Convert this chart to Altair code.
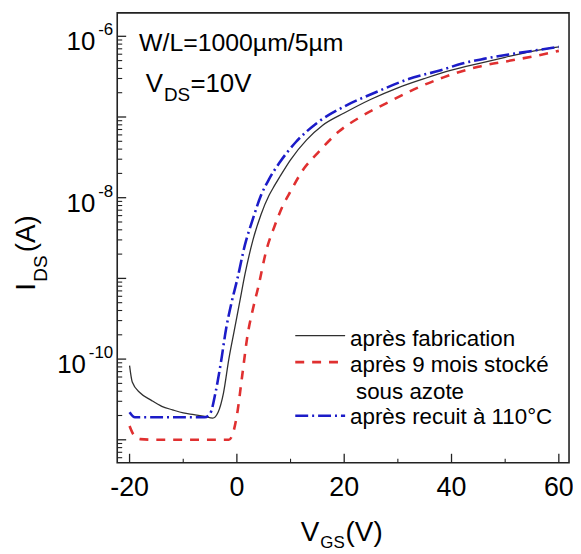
import altair as alt
import pandas as pd

# ---------------- data ----------------
vgs_fab = [-20, -19.5, -18, -16, -14, -12, -10, -8, -6, -4.5, -3.5, -2.5, -1.5, -0.5, 0.5,
           1.5, 3, 4.5, 6, 7, 8, 10, 13, 16, 20, 25, 30, 35, 40, 45, 50, 55, 60]
ids_fab = [8.3e-11, 5.2e-11, 3.8e-11, 3.1e-11, 2.6e-11, 2.35e-11, 2.15e-11, 2.05e-11, 1.95e-11,
           1.86e-11, 2.2e-11, 3.8e-11, 1.0e-10, 2.24e-10, 5.0e-10, 1.12e-9, 3.0e-9, 6.2e-9,
           1.07e-8, 1.41e-8, 1.82e-8, 2.95e-8, 5.2e-8, 7.9e-8, 1.12e-7, 1.66e-7, 2.3e-7, 3.0e-7,
           3.8e-7, 4.6e-7, 5.5e-7, 6.5e-7, 7.4e-7]

vgs_n2 = [-20, -19.3, -18, -15, -10, -5, -1.5, -0.8, 0, 1, 2, 3, 4, 5.5, 7, 8.5, 10, 12.5,
          15, 19, 23, 28, 33, 38.5, 45, 51, 55, 60]
ids_n2 = [1.48e-11, 1.17e-11, 1.02e-11, 1.0e-11, 1.0e-11, 1.0e-11, 1.0e-11, 1.17e-11, 2.0e-11,
          6.3e-11, 2.0e-10, 4.2e-10, 7.9e-10, 2.24e-9, 4.4e-9, 7.8e-9, 1.2e-8, 2.3e-8, 3.55e-8,
          6.6e-8, 1.0e-7, 1.5e-7, 2.2e-7, 3.1e-7, 4.2e-7, 5.0e-7, 5.6e-7, 6.6e-7]

vgs_rec = [-20, -19, -15, -10, -6, -5, -4, -3, -2, -1, 0, 1.5, 3, 4.5, 6, 8, 11, 15, 20, 26,
           32, 38, 42, 46, 51, 55, 60]
ids_rec = [2.2e-11, 1.9e-11, 1.9e-11, 1.9e-11, 1.9e-11, 2.1e-11, 3.8e-11, 8.9e-11, 2.4e-10,
           5.0e-10, 9.3e-10, 2.6e-9, 5.5e-9, 1.07e-8, 1.7e-8, 2.75e-8, 4.9e-8, 8.5e-8, 1.35e-7,
           2.04e-7, 2.95e-7, 3.8e-7, 4.6e-7, 5.25e-7, 6.0e-7, 6.6e-7, 7.4e-7]

legend_labels = ["après fabrication", "après 9 mois stocké", "sous azote", "après recuit à 110°C"]

x_domain = [-22.3, 61.9]
y_domain = [5.2e-12, 1.95e-6]
x_major = [-20, 0, 20, 40, 60]
x_minor = [-10, 10, 30, 50]
x_labels = ["-20", "0", "20", "40", "60"]
y_major = [1e-11, 1e-10, 1e-9, 1e-8, 1e-7, 1e-6]
y_minor = [m * 10.0 ** k for k in range(-12, -6) for m in range(2, 10)]
y_minor = [v for v in y_minor if y_domain[0] <= v <= y_domain[1]]
y_label_values = [1e-6, 1e-8, 1e-10]
y_label_exps = ["-6", "-8", "-10"]

# ---------------- styling ----------------
W, H = 455, 453
FONT = "Liberation Sans"
FRAME = "#222222"
RED = "#e03030"
BLUE = "#1c1cc8"
BLACK = "#303030"
RED_DASH = [9, 8]
BLUE_DASH = [13, 4, 2, 4]
LEG_FS = 22.5

xs = alt.Scale(domain=x_domain, nice=False, zero=False)
ys = alt.Scale(type="log", domain=y_domain, nice=False)


def curve(vgs, ids, color, width, dash=None):
    kw = dict(color=color, strokeWidth=width, interpolate="monotone", clip=True)
    if dash:
        kw["strokeDash"] = dash
    return alt.Chart(pd.DataFrame({"vgs": vgs, "ids": ids})).mark_line(**kw).encode(
        x=alt.X("vgs:Q", scale=xs, axis=None),
        y=alt.Y("ids:Q", scale=ys, axis=None),
    )


def text(t, x, y, size, align="left", angle=None):
    kw = dict(text=t, font=FONT, fontSize=size, align=align, baseline="alphabetic", color="black")
    if angle is not None:
        kw["angle"] = angle
    return alt.Chart(pd.DataFrame({"a": [0]})).mark_text(**kw).encode(
        x=alt.value(x), y=alt.value(y))


layers = []

# curves
layers.append(curve(vgs_fab, ids_fab, BLACK, 1.3))
layers.append(curve(vgs_n2, ids_n2, RED, 2.6, RED_DASH))
layers.append(curve(vgs_rec, ids_rec, BLUE, 2.6, BLUE_DASH))

# inward ticks
layers.append(alt.Chart(pd.DataFrame({"v": y_major})).mark_rule(color=FRAME, strokeWidth=1.3).encode(
    y=alt.Y("v:Q", scale=ys, axis=None), x=alt.value(0), x2=alt.value(9)))
layers.append(alt.Chart(pd.DataFrame({"v": y_minor})).mark_rule(color=FRAME, strokeWidth=1.1).encode(
    y=alt.Y("v:Q", scale=ys, axis=None), x=alt.value(0), x2=alt.value(5)))
layers.append(alt.Chart(pd.DataFrame({"v": x_major})).mark_rule(color=FRAME, strokeWidth=1.3).encode(
    x=alt.X("v:Q", scale=xs, axis=None), y=alt.value(H), y2=alt.value(H - 9)))
layers.append(alt.Chart(pd.DataFrame({"v": x_minor})).mark_rule(color=FRAME, strokeWidth=1.1).encode(
    x=alt.X("v:Q", scale=xs, axis=None), y=alt.value(H), y2=alt.value(H - 4)))

# x tick labels
layers.append(alt.Chart(pd.DataFrame({"v": x_major, "t": x_labels})).mark_text(
    font=FONT, fontSize=27, align="center", baseline="alphabetic", color="black").encode(
    x=alt.X("v:Q", scale=xs, axis=None), y=alt.value(H + 34), text="t:N"))

# y tick labels 10^k
SUP = 17
for v, e in zip(y_label_values, y_label_exps):
    supw = SUP * (0.333 + 0.556 * (len(e) - 1))
    d = pd.DataFrame({"v": [v], "b": ["10"], "e": [e]})
    layers.append(alt.Chart(d).mark_text(
        font=FONT, fontSize=SUP, align="right", baseline="alphabetic", dy=-1, color="black").encode(
        y=alt.Y("v:Q", scale=ys, axis=None), x=alt.value(-4), text="e:N"))
    layers.append(alt.Chart(d).mark_text(
        font=FONT, fontSize=26, align="right", baseline="alphabetic", dy=14, color="black").encode(
        y=alt.Y("v:Q", scale=ys, axis=None), x=alt.value(-4 - supw - 3), text="b:N"))

# axis titles
layers.append(text("V", 184.7, 532, 28))
layers.append(text("GS", 204.5, 539, 17))
layers.append(text("(V)", 230, 532, 28))
layers.append(text("I", -83, 276, 28, align="center", angle=270))
layers.append(text("DS", -71, 257.5, 19, align="center", angle=270))
layers.append(text("(A)", -83, 222.5, 28, align="center", angle=270))

# annotations
layers.append(text("W/L=1000µm/5µm", 22, 38.3, 25))
layers.append(text("V", 28.7, 80, 26))
layers.append(text("DS", 47, 89, 19))
layers.append(text("=10V", 73.7, 80, 26))

# legend
def leg_line(y, color, width, dash=None):
    kw = dict(color=color, strokeWidth=width)
    if dash:
        kw["strokeDash"] = dash
    return alt.Chart(pd.DataFrame({"a": [0]})).mark_rule(**kw).encode(
        x=alt.value(179.3), x2=alt.value(229.5), y=alt.value(y))

layers.append(leg_line(325, BLACK, 1.3))
layers.append(leg_line(351.7, RED, 2.6, RED_DASH))
layers.append(leg_line(405.7, BLUE, 2.6, BLUE_DASH))
layers.append(text(legend_labels[0], 234.5, 335, LEG_FS))
layers.append(text(legend_labels[1], 234.5, 361.7, LEG_FS))
layers.append(text(legend_labels[2], 240.5, 389, LEG_FS))
layers.append(text(legend_labels[3], 234.5, 414, LEG_FS))

chart = alt.layer(*layers).properties(
    width=W, height=H,
    autosize=alt.AutoSizeParams(type="none"),
    padding={"left": 110, "top": 3, "right": 4, "bottom": 90},
).configure_view(stroke=FRAME, strokeWidth=1.6)

chart.save("out.html", embed_options={"renderer": "svg", "actions": False})
